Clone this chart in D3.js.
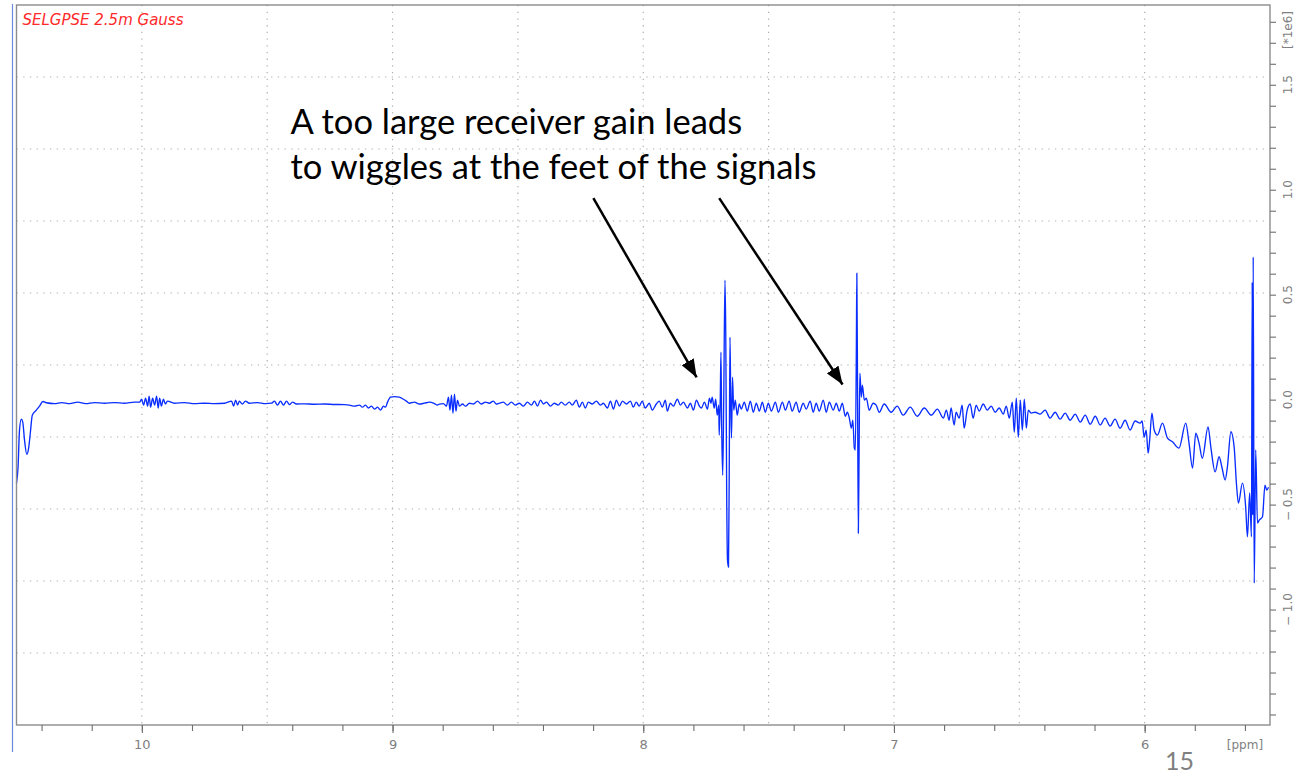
<!DOCTYPE html>
<html>
<head>
<meta charset="utf-8">
<script src="https://cdn.jsdelivr.net/npm/d3@7"></script>
<style>
  body { margin: 0; background: #fff; }
  svg { display: block; }
</style>
</head>
<body>
<div id="chart"></div>
<script>
// 1H spectrum, selective excitation, shown from 10.5 to 5.5 ppm
// chemical shift in ppm
var shiftPpm = [
  10.500, 10.494, 10.488, 10.481, 10.475, 10.468, 10.459, 10.451, 10.445, 10.437, 10.421, 10.408, 10.395, 10.381,
  10.348, 10.320, 10.288, 10.256, 10.224, 10.189, 10.149, 10.109, 10.069, 10.029,
  10.009, 10.001, 9.993, 9.985, 9.977, 9.971, 9.965, 9.957, 9.949, 9.941, 9.935, 9.929, 9.922, 9.914, 9.906, 9.898,
  9.870, 9.830, 9.790, 9.750, 9.710, 9.670,
  9.642, 9.634, 9.626, 9.618, 9.611, 9.599, 9.587, 9.571, 9.539, 9.507, 9.483,
  9.471, 9.459, 9.447, 9.435, 9.423, 9.411, 9.399, 9.383, 9.351, 9.311, 9.272, 9.232,
  9.192, 9.172, 9.152, 9.132, 9.120, 9.108, 9.096, 9.084, 9.072, 9.060, 9.048, 9.036,
  9.028, 9.020, 9.008, 8.992, 8.973, 8.957, 8.945, 8.933, 8.913, 8.893, 8.873, 8.853, 8.833, 8.821,
  8.813, 8.797, 8.785, 8.777, 8.771, 8.765, 8.759, 8.753, 8.747, 8.741, 8.733, 8.721, 8.709,
  8.693, 8.677, 8.661, 8.646, 8.630, 8.614, 8.598, 8.586, 8.574, 8.558, 8.542, 8.526, 8.510,
  8.494, 8.478, 8.462, 8.446, 8.434, 8.422, 8.410, 8.398, 8.386, 8.370, 8.355, 8.339, 8.327,
  8.311, 8.295, 8.283, 8.267, 8.255, 8.243, 8.231, 8.219, 8.203, 8.187, 8.171, 8.159, 8.143,
  8.131, 8.119, 8.107, 8.095, 8.083, 8.067, 8.051, 8.040, 8.028, 8.016, 8.004, 7.992, 7.976,
  7.964, 7.948, 7.936, 7.924, 7.912, 7.904, 7.892, 7.880, 7.864, 7.852, 7.840, 7.824, 7.812, 7.800, 7.788, 7.776,
  7.768, 7.756, 7.744, 7.736, 7.730, 7.725, 7.717, 7.711, 7.705, 7.699, 7.697, 7.693, 7.690, 7.687, 7.683, 7.679,
  7.674, 7.671, 7.667, 7.664, 7.660, 7.657, 7.654, 7.651, 7.648, 7.644, 7.639, 7.633, 7.625, 7.617, 7.609,
  7.597, 7.585, 7.573, 7.561, 7.549, 7.537, 7.525, 7.513, 7.501, 7.489, 7.473, 7.461, 7.445, 7.433,
  7.418, 7.406, 7.390, 7.378, 7.362, 7.350, 7.334, 7.322, 7.310, 7.298, 7.282, 7.270, 7.258, 7.242,
  7.230, 7.218, 7.206, 7.194, 7.186, 7.178, 7.170, 7.164, 7.158, 7.154, 7.150, 7.148, 7.145, 7.142,
  7.139, 7.136, 7.130, 7.126, 7.118, 7.110, 7.099, 7.083, 7.071, 7.059,
  7.039, 7.011, 6.987, 6.963, 6.935, 6.907, 6.879, 6.851, 6.827, 6.803, 6.791, 6.780, 6.772, 6.760,
  6.752, 6.740, 6.728, 6.720, 6.708, 6.696, 6.684, 6.672, 6.660, 6.644, 6.628, 6.612, 6.596, 6.580,
  6.564, 6.552, 6.540, 6.528, 6.520, 6.512, 6.504, 6.496, 6.488, 6.480, 6.472, 6.464, 6.453, 6.437,
  6.417, 6.397, 6.377, 6.357, 6.337, 6.317, 6.297, 6.277, 6.257, 6.237, 6.217, 6.197, 6.177, 6.158,
  6.138, 6.118, 6.098, 6.078, 6.058, 6.038, 6.018, 6.010, 6.002, 5.994, 5.986, 5.980,
  5.971, 5.962, 5.949, 5.929, 5.909, 5.889, 5.863, 5.836, 5.823, 5.809, 5.796, 5.783, 5.770,
  5.747, 5.736, 5.719, 5.703, 5.692, 5.679, 5.670, 5.656, 5.643, 5.634, 5.626, 5.610, 5.597,
  5.590, 5.581, 5.574, 5.571, 5.569, 5.567, 5.563, 5.557, 5.550, 5.543, 5.530, 5.520, 5.513, 5.506
];

// intensity in units of 1e6
var intensity = [
  -0.398, -0.326, -0.145, -0.093, -0.107, -0.193, -0.260, -0.226, -0.160, -0.074, -0.050, -0.031, -0.009, -0.015,
  -0.019, -0.014, -0.019, -0.012, -0.019, -0.014, -0.017, -0.014, -0.017, -0.012,
  -0.012, 0.002, -0.026, 0.007, -0.031, 0.017, -0.036, 0.007, -0.026, 0.017, -0.040, 0.007, -0.031, 0.002, -0.021, -0.007,
  -0.017, -0.014, -0.019, -0.017, -0.019, -0.017,
  -0.007, -0.031, -0.002, -0.026, -0.007, -0.021, -0.007, -0.017, -0.014, -0.019, -0.017,
  -0.007, -0.026, -0.007, -0.026, -0.007, -0.024, -0.012, -0.021, -0.020, -0.022, -0.021, -0.023,
  -0.024, -0.026, -0.031, -0.026, -0.036, -0.026, -0.040, -0.031, -0.045, -0.036, -0.050, -0.031,
  -0.036, -0.012, 0.012, 0.014, 0.012, 0.002, -0.007, -0.017, -0.012, -0.021, -0.017, -0.012, -0.019, -0.026,
  -0.021, -0.019, -0.031, 0.012, -0.050, 0.021, -0.064, 0.026, -0.055, -0.002, -0.031, -0.021, -0.031,
  -0.017, -0.021, -0.007, -0.021, -0.012, -0.017, -0.007, -0.021, -0.017, -0.012, -0.026, -0.012, -0.026,
  -0.017, -0.031, -0.012, -0.026, -0.007, -0.031, -0.002, -0.021, -0.012, -0.031, -0.017, -0.026, -0.012,
  -0.026, -0.012, -0.026, -0.002, -0.036, -0.012, -0.040, -0.012, -0.021, -0.007, -0.026, -0.017, -0.040,
  -0.007, -0.045, -0.002, -0.031, -0.007, -0.021, -0.007, -0.036, -0.012, -0.031, -0.007, -0.040, -0.017,
  -0.050, -0.021, -0.007, -0.036, -0.002, -0.055, -0.017, -0.031, 0.002, -0.026, -0.012, -0.040, -0.017, -0.050, -0.002, -0.031,
  -0.040, -0.012, -0.045, 0.007, -0.017, 0.012, -0.040, 0.002, -0.074, -0.026, -0.169, -0.012, 0.226, -0.145, -0.360, -0.002,
  0.569, 0.331, -0.479, -0.764, -0.798, -0.336, 0.298, -0.002, -0.183, 0.107, -0.050, -0.002, -0.074, -0.021, -0.045,
  -0.012, -0.055, -0.007, -0.060, -0.017, -0.055, -0.012, -0.060, -0.017, -0.055, -0.012, -0.060, -0.012, -0.050,
  -0.007, -0.055, -0.012, -0.060, -0.017, -0.045, -0.007, -0.060, -0.017, -0.055, -0.002, -0.060, -0.012, -0.050,
  -0.017, -0.055, -0.017, -0.079, -0.060, -0.088, -0.136, -0.098, -0.231, -0.240, 0.236, 0.602, -0.002, -0.636,
  -0.240, 0.126, 0.012, 0.069, -0.002, 0.007, -0.050, -0.017, -0.026, -0.060,
  -0.021, -0.060, -0.031, -0.074, -0.036, -0.079, -0.040, -0.074, -0.045, -0.088, -0.050, -0.098, -0.040, -0.121,
  -0.060, -0.088, -0.026, -0.136, -0.050, -0.021, -0.088, -0.026, -0.055, -0.021, -0.050, -0.031, -0.060, -0.040,
  -0.069, -0.031, -0.088, -0.012, -0.155, 0.007, -0.179, -0.002, -0.145, 0.002, -0.136, -0.050, -0.064, -0.060,
  -0.069, -0.050, -0.088, -0.060, -0.093, -0.064, -0.098, -0.069, -0.107, -0.074, -0.117, -0.079, -0.121, -0.088,
  -0.126, -0.093, -0.136, -0.098, -0.145, -0.102, -0.112, -0.102, -0.179, -0.145, -0.255, -0.193,
  -0.064, -0.145, -0.169, -0.112, -0.183, -0.201, -0.231, -0.112, -0.207, -0.326, -0.160, -0.207, -0.279,
  -0.130, -0.226, -0.344, -0.272, -0.321, -0.383, -0.321, -0.153, -0.226, -0.398, -0.493, -0.398, -0.512,
  -0.653, -0.445, -0.653, 0.560, -0.550, 0.680, -0.874, -0.240, -0.588, -0.574, -0.558, -0.407, -0.431, -0.417
];

// axis labels
var xMajorTicks = [10, 9, 8, 7, 6];
var yLabelTicks = [-1.0, -0.5, 0.0, 0.5, 1.0, 1.5];
var xUnitLabel = "[ppm]";
var yUnitLabel = "[*1e6]";
var titleText = "SELGPSE 2.5m Gauss";
var noteLines = ["A too large receiver gain leads", "to wiggles at the feet of the signals"];
// arrows: [start ppm, start intensity, tip ppm, tip intensity]
var arrows = [
  [8.199, 0.960, 7.787, 0.106],
  [7.697, 0.960, 7.205, 0.072]
];

var svgWidth = 1314;
var svgHeight = 776;
var frame = { left: 16.5, right: 1270, top: 5, bottom: 725 };

var svg = d3.select("#chart")
  .append("svg")
  .attr("width", svgWidth)
  .attr("height", svgHeight);

var x = d3.scaleLinear().domain([10.5, 5.5]).range([frame.left, frame.right]);
var y = d3.scaleLinear().domain([-1.55, 1.88]).range([frame.bottom, frame.top]);

// slide edge line on the left
svg.append("line")
  .attr("x1", 12.5).attr("x2", 12.5)
  .attr("y1", 4).attr("y2", 752)
  .attr("stroke", "#6a8ad8")
  .attr("stroke-width", 1.2);

// dotted grid, 10 divisions each way
var gridG = svg.append("g")
  .attr("stroke", "#b0b0b0")
  .attr("stroke-width", 1.2)
  .attr("stroke-dasharray", "1.3,5.4");

var xGrid = d3.range(1, 10).map(i => 10.5 - i * 0.5);
gridG.selectAll(".vg")
  .data(xGrid)
  .enter()
  .append("line")
  .attr("x1", d => x(d)).attr("x2", d => x(d))
  .attr("y1", frame.top).attr("y2", frame.bottom);

var yGrid = d3.range(1, 10).map(i => -1.55 + i * (1.88 + 1.55) / 10);
gridG.selectAll(".hg")
  .data(yGrid)
  .enter()
  .append("line")
  .attr("x1", frame.left).attr("x2", frame.right)
  .attr("y1", d => y(d)).attr("y2", d => y(d));

// spectrum
var spectrum = shiftPpm.map((p, i) => ({ ppm: p, v: intensity[i] }));
var line = d3.line()
  .x(d => x(d.ppm))
  .y(d => y(d.v))
  .curve(d3.curveMonotoneX);

svg.append("path")
  .datum(spectrum)
  .attr("fill", "none")
  .attr("stroke", "#0a2eff")
  .attr("stroke-width", 1.35)
  .attr("stroke-linejoin", "round")
  .attr("d", line);

// frame
svg.append("rect")
  .attr("x", frame.left)
  .attr("y", frame.top)
  .attr("width", frame.right - frame.left)
  .attr("height", frame.bottom - frame.top)
  .attr("fill", "none")
  .attr("stroke", "#8c8c8c")
  .attr("stroke-width", 1.4);

// x axis: minor ticks every 0.2 ppm, labelled ticks on whole ppm
var xMinorAxis = d3.axisBottom(x)
  .tickValues(d3.range(56, 105, 2).map(v => v / 10))
  .tickSize(6)
  .tickFormat("");
var xMajorAxis = d3.axisBottom(x)
  .tickValues(xMajorTicks)
  .tickSize(8)
  .tickPadding(7)
  .tickFormat(d3.format("d"));

[xMinorAxis, xMajorAxis].forEach(function (ax) {
  var g = svg.append("g")
    .attr("transform", `translate(0, ${frame.bottom})`)
    .call(ax);
  g.select(".domain").remove();
  g.selectAll("line").attr("stroke", "#6e6e6e").attr("stroke-width", 1.1);
  g.selectAll("text")
    .attr("fill", "#808080")
    .attr("font-family", "DejaVu Sans")
    .attr("font-size", "13px");
});

svg.append("text")
  .attr("x", x(5.6))
  .attr("y", 749)
  .attr("text-anchor", "middle")
  .attr("fill", "#808080")
  .attr("font-family", "DejaVu Sans")
  .attr("font-size", "12px")
  .text(xUnitLabel);

// y axis on the right, ticks every 0.1
var yAxis = d3.axisRight(y)
  .tickValues(d3.range(-15, 19).map(v => v / 10))
  .tickSize(6)
  .tickFormat("");
var yG = svg.append("g")
  .attr("transform", `translate(${frame.right}, 0)`)
  .call(yAxis);
yG.select(".domain").remove();
yG.selectAll("line").attr("stroke", "#6e6e6e").attr("stroke-width", 1.1);

svg.selectAll(".ylab")
  .data(yLabelTicks)
  .enter()
  .append("text")
  .attr("transform", d => `translate(1288, ${y(d)}) rotate(-90)`)
  .attr("text-anchor", "middle")
  .attr("dy", "0.35em")
  .attr("fill", "#808080")
  .attr("font-family", "DejaVu Sans")
  .attr("font-size", "12px")
  .text(d => d3.format(".1f")(d).replace("−", "− "));

svg.append("text")
  .attr("transform", "translate(1288, 30) rotate(-90)")
  .attr("text-anchor", "middle")
  .attr("dy", "0.35em")
  .attr("fill", "#808080")
  .attr("font-family", "DejaVu Sans")
  .attr("font-size", "12px")
  .text(yUnitLabel);

// experiment title
svg.append("text")
  .attr("x", frame.left + 6)
  .attr("y", frame.top + 20)
  .attr("fill", "#ff2a2a")
  .attr("font-family", "DejaVu Sans")
  .attr("font-style", "italic")
  .attr("font-size", "15px")
  .text(titleText);

// annotation text
svg.selectAll(".note")
  .data(noteLines)
  .enter()
  .append("text")
  .attr("x", x(9.407))
  .attr("y", (d, i) => y(1.264) + i * 45)
  .attr("fill", "#000")
  .attr("font-family", "Lato")
  .attr("font-size", "34.5px")
  .text(d => d);

// arrows
var defs = svg.append("defs");
defs.append("marker")
  .attr("id", "head")
  .attr("markerUnits", "userSpaceOnUse")
  .attr("viewBox", "0 0 18 14")
  .attr("markerWidth", 18)
  .attr("markerHeight", 14)
  .attr("refX", 18)
  .attr("refY", 7)
  .attr("orient", "auto")
  .append("path")
  .attr("d", "M0,0 L18,7 L0,14 Z")
  .attr("fill", "#000");

arrows.forEach(function (a) {
  var x1 = x(a[0]), y1 = y(a[1]), x2 = x(a[2]), y2 = y(a[3]);
  svg.append("line")
    .attr("x1", x1).attr("y1", y1)
    .attr("x2", x2).attr("y2", y2)
    .attr("stroke", "#000")
    .attr("stroke-width", 2.5)
    .attr("marker-end", "url(#head)");
});

// slide number
svg.append("text")
  .attr("x", 1165)
  .attr("y", 770)
  .attr("fill", "#7f7f7f")
  .attr("font-family", "Lato")
  .attr("font-size", "25px")
  .text("15");
</script>
</body>
</html>
